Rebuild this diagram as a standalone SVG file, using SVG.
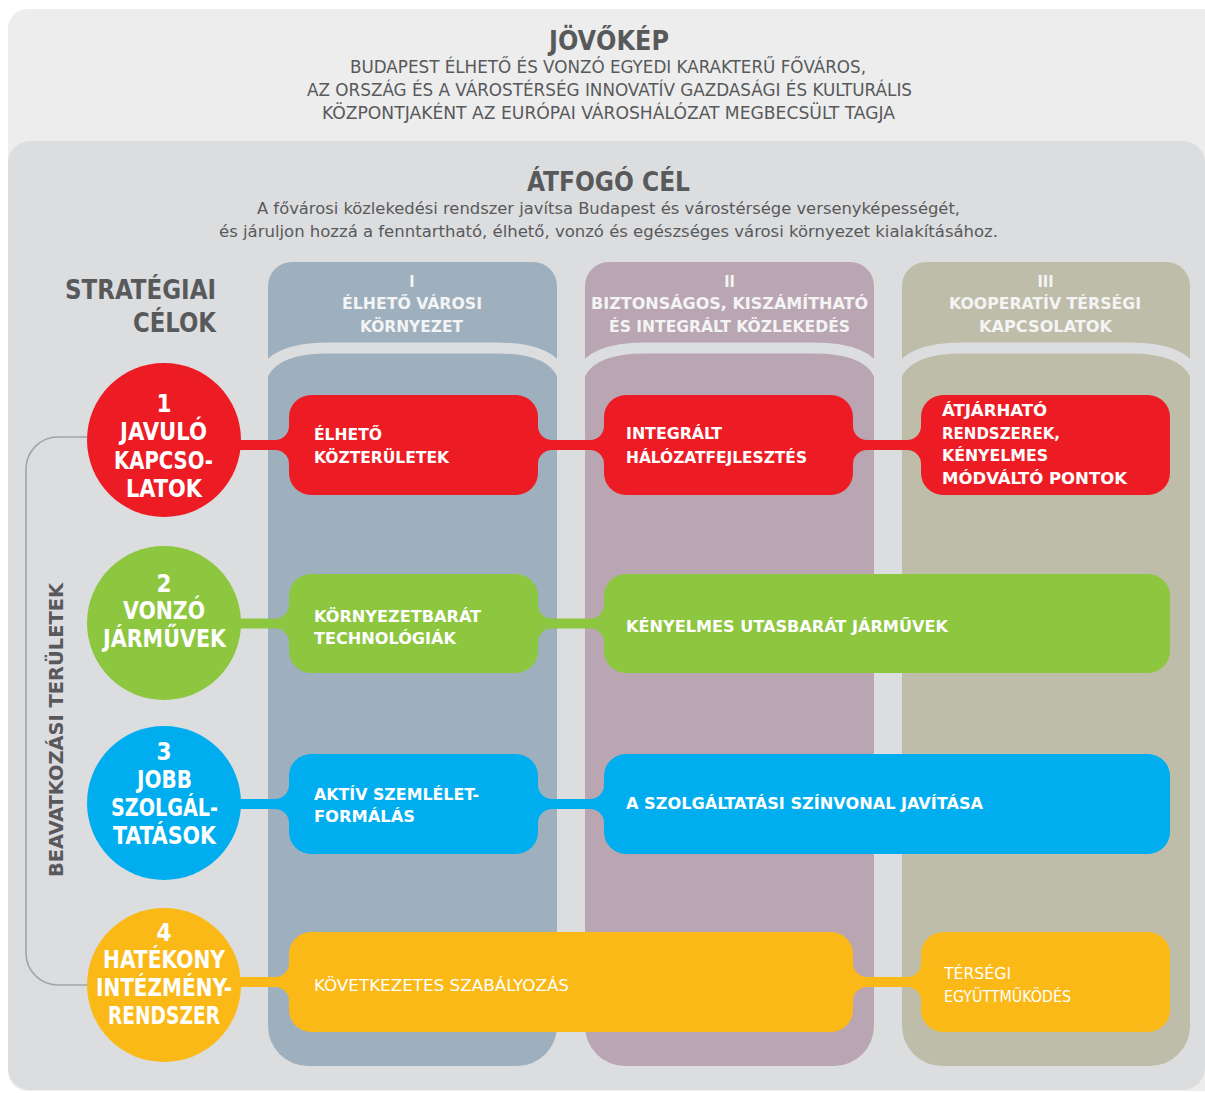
<svg xmlns="http://www.w3.org/2000/svg" xmlns:xlink="http://www.w3.org/1999/xlink" width="1205" height="1093" viewBox="0 0 1205 1093">
<style>
text{font-family:'Liberation Sans Narrow','DejaVu Sans Condensed','Liberation Sans',sans-serif}
.g{fill:#58595b}
.b{font-weight:bold}
.w{fill:#ffffff}
.hd{fill:#f4f4f4;font-weight:bold;font-size:16px;text-anchor:middle}
.bx{fill:#ffffff;font-weight:bold;font-size:16px}
.bxr{fill:#ffffff;font-size:16px}
.ci{fill:#ffffff;font-weight:bold;font-size:24px;text-anchor:middle}
.band{fill:none;stroke:#dcdddf;stroke-width:11}
.red{fill:#ed1c24}.grn{fill:#8dc63f}.blu{fill:#00aeef}.yel{fill:#fbb917}
</style>
<defs>
<g id="fL"><path d="M0,-19 L0,-5 L-14,-5 A14,14 0 0 0 0,-19 Z"/><path d="M0,19 L0,5 L-14,5 A14,14 0 0 1 0,19 Z"/></g>
<g id="fR"><path d="M0,-19 L0,-5 L14,-5 A14,14 0 0 1 0,-19 Z"/><path d="M0,19 L0,5 L14,5 A14,14 0 0 0 0,19 Z"/></g>
</defs>
<rect width="1205" height="1093" fill="#ffffff"/>
<g id="vision">
<rect x="8" y="9" width="1220" height="1082" rx="20" fill="#ededed"/>
<text class="g b" x="609" y="50" font-size="26" text-anchor="middle" textLength="120" lengthAdjust="spacingAndGlyphs">JÖVŐKÉP</text>
<text class="g" x="608" y="73" font-size="17" text-anchor="middle" textLength="516" lengthAdjust="spacingAndGlyphs">BUDAPEST ÉLHETŐ ÉS VONZÓ EGYEDI KARAKTERŰ FŐVÁROS,</text>
<text class="g" x="609.5" y="96" font-size="17" text-anchor="middle" textLength="605" lengthAdjust="spacingAndGlyphs">AZ ORSZÁG ÉS A VÁROSTÉRSÉG INNOVATÍV GAZDASÁGI ÉS KULTURÁLIS</text>
<text class="g" x="608.5" y="119" font-size="17" text-anchor="middle" textLength="573" lengthAdjust="spacingAndGlyphs">KÖZPONTJAKÉNT AZ EURÓPAI VÁROSHÁLÓZAT MEGBECSÜLT TAGJA</text>
</g>
<g id="goal">
<rect x="8" y="141" width="1197" height="949" rx="22" fill="#dcdddf"/>
<text class="g b" x="608.5" y="191" font-size="27" text-anchor="middle" textLength="163" lengthAdjust="spacingAndGlyphs">ÁTFOGÓ CÉL</text>
<text class="g" x="608.5" y="214" font-size="16" text-anchor="middle" textLength="703" lengthAdjust="spacingAndGlyphs">A fővárosi közlekedési rendszer javítsa Budapest és várostérsége versenyképességét,</text>
<text class="g" x="608.5" y="237" font-size="16" text-anchor="middle" textLength="779" lengthAdjust="spacingAndGlyphs">és járuljon hozzá a fenntartható, élhető, vonzó és egészséges városi környezet kialakításához.</text>
<text class="g b" x="216" y="299" font-size="27" text-anchor="end" textLength="151" lengthAdjust="spacingAndGlyphs">STRATÉGIAI</text>
<text class="g b" x="216" y="332" font-size="27" text-anchor="end" textLength="83" lengthAdjust="spacingAndGlyphs">CÉLOK</text>
</g>
<g id="col-1">
<path d="M268,286 A24,24 0 0 1 292,262 L533,262 A24,24 0 0 1 557,286 L557,1026 A40,40 0 0 1 517,1066 L308,1066 A40,40 0 0 1 268,1026 Z" fill="#9eafbd"/>
<path class="band" d="M263,374 C272,355 296,348 328,348 L497,348 C529,348 553,355 562,374"/>
<text class="hd" x="412" y="287">I</text>
<text class="hd" x="412" y="309" textLength="140" lengthAdjust="spacingAndGlyphs">ÉLHETŐ VÁROSI</text>
<text class="hd" x="411.5" y="332" textLength="103" lengthAdjust="spacingAndGlyphs">KÖRNYEZET</text>
</g>
<g id="col-2">
<path d="M585,286 A24,24 0 0 1 609,262 L850,262 A24,24 0 0 1 874,286 L874,1026 A40,40 0 0 1 834,1066 L625,1066 A40,40 0 0 1 585,1026 Z" fill="#b9a6b2"/>
<path class="band" d="M580,374 C589,355 613,348 645,348 L814,348 C846,348 870,355 879,374"/>
<text class="hd" x="729.5" y="287">II</text>
<text class="hd" x="729.5" y="309" textLength="277" lengthAdjust="spacingAndGlyphs">BIZTONSÁGOS, KISZÁMÍTHATÓ</text>
<text class="hd" x="729.5" y="332" textLength="241" lengthAdjust="spacingAndGlyphs">ÉS INTEGRÁLT KÖZLEKEDÉS</text>
</g>
<g id="col-3">
<path d="M902,286 A24,24 0 0 1 926,262 L1166,262 A24,24 0 0 1 1190,286 L1190,1026 A40,40 0 0 1 1150,1066 L942,1066 A40,40 0 0 1 902,1026 Z" fill="#bebda9"/>
<path class="band" d="M897,374 C906,355 930,348 962,348 L1130,348 C1162,348 1186,355 1195,374"/>
<text class="hd" x="1045.5" y="287">III</text>
<text class="hd" x="1045" y="309" textLength="192" lengthAdjust="spacingAndGlyphs">KOOPERATÍV TÉRSÉGI</text>
<text class="hd" x="1045.5" y="332" textLength="133" lengthAdjust="spacingAndGlyphs">KAPCSOLATOK</text>
</g>
<g id="connectors">
<path d="M88,437 L58,437 A32,32 0 0 0 26,469 L26,953 A32,32 0 0 0 58,985 L88,985" fill="none" stroke="#a3a4a6" stroke-width="1.6"/>
<rect class="red" x="164" y="440" width="950" height="10"/>
<use href="#fL" x="289" y="445" class="red"/>
<use href="#fR" x="538" y="445" class="red"/>
<use href="#fL" x="604" y="445" class="red"/>
<use href="#fR" x="853" y="445" class="red"/>
<use href="#fL" x="921" y="445" class="red"/>
<rect class="grn" x="164" y="618.5" width="550" height="10"/>
<use href="#fL" x="289" y="623.5" class="grn"/>
<use href="#fR" x="538" y="623.5" class="grn"/>
<use href="#fL" x="604" y="623.5" class="grn"/>
<rect class="blu" x="164" y="799" width="550" height="10"/>
<use href="#fL" x="289" y="804" class="blu"/>
<use href="#fR" x="538" y="804" class="blu"/>
<use href="#fL" x="604" y="804" class="blu"/>
<rect class="yel" x="164" y="977" width="850" height="10"/>
<use href="#fL" x="289" y="982" class="yel"/>
<use href="#fR" x="853" y="982" class="yel"/>
<use href="#fL" x="921" y="982" class="yel"/>
</g>
<text class="g b" transform="translate(63,730) rotate(-90)" x="0" y="0" font-size="20" text-anchor="middle" textLength="294" lengthAdjust="spacingAndGlyphs">BEAVATKOZÁSI TERÜLETEK</text>
<g id="goal-1">
<circle class="red" cx="164" cy="440" r="77"/>
<text class="ci" x="164" y="412">1</text>
<text class="ci" x="163.5" y="440" textLength="87" lengthAdjust="spacingAndGlyphs">JAVULÓ</text>
<text class="ci" x="163.5" y="469" textLength="99" lengthAdjust="spacingAndGlyphs">KAPCSO-</text>
<text class="ci" x="164" y="497" textLength="76" lengthAdjust="spacingAndGlyphs">LATOK</text>
</g>
<g id="goal-2">
<circle class="grn" cx="164" cy="623" r="77"/>
<text class="ci" x="164" y="592">2</text>
<text class="ci" x="164" y="619" textLength="82" lengthAdjust="spacingAndGlyphs">VONZÓ</text>
<text class="ci" x="164.5" y="647" textLength="123" lengthAdjust="spacingAndGlyphs">JÁRMŰVEK</text>
</g>
<g id="goal-3">
<circle class="blu" cx="164" cy="803" r="77"/>
<text class="ci" x="164" y="760">3</text>
<text class="ci" x="164.5" y="788" textLength="55" lengthAdjust="spacingAndGlyphs">JOBB</text>
<text class="ci" x="164.5" y="816" textLength="107" lengthAdjust="spacingAndGlyphs">SZOLGÁL-</text>
<text class="ci" x="164.5" y="844" textLength="103" lengthAdjust="spacingAndGlyphs">TATÁSOK</text>
</g>
<g id="goal-4">
<circle class="yel" cx="164" cy="985" r="77"/>
<text class="ci" x="164" y="941">4</text>
<text class="ci" x="164" y="968" textLength="122" lengthAdjust="spacingAndGlyphs">HATÉKONY</text>
<text class="ci" x="164" y="996" textLength="136" lengthAdjust="spacingAndGlyphs">INTÉZMÉNY-</text>
<text class="ci" x="164" y="1024" textLength="112" lengthAdjust="spacingAndGlyphs">RENDSZER</text>
</g>
<g id="box-1a">
<rect class="red" x="289" y="395" width="249" height="100" rx="22"/>
<text class="bx" x="314" y="440" textLength="68" lengthAdjust="spacingAndGlyphs">ÉLHETŐ</text>
<text class="bx" x="314" y="463" textLength="135" lengthAdjust="spacingAndGlyphs">KÖZTERÜLETEK</text>
</g>
<g id="box-1b">
<rect class="red" x="604" y="395" width="249" height="100" rx="22"/>
<text class="bx" x="626" y="439" textLength="96" lengthAdjust="spacingAndGlyphs">INTEGRÁLT</text>
<text class="bx" x="626" y="463" textLength="181" lengthAdjust="spacingAndGlyphs">HÁLÓZATFEJLESZTÉS</text>
</g>
<g id="box-1c">
<rect class="red" x="921" y="395" width="249" height="100" rx="22"/>
<text class="bx" x="942" y="416" textLength="105" lengthAdjust="spacingAndGlyphs">ÁTJÁRHATÓ</text>
<text class="bx" x="942" y="439" textLength="118" lengthAdjust="spacingAndGlyphs">RENDSZEREK,</text>
<text class="bx" x="942" y="461" textLength="106" lengthAdjust="spacingAndGlyphs">KÉNYELMES</text>
<text class="bx" x="942" y="484" textLength="185" lengthAdjust="spacingAndGlyphs">MÓDVÁLTÓ PONTOK</text>
</g>
<g id="box-2a">
<rect class="grn" x="289" y="574" width="249" height="99" rx="22"/>
<text class="bx" x="314" y="622" textLength="167" lengthAdjust="spacingAndGlyphs">KÖRNYEZETBARÁT</text>
<text class="bx" x="314" y="644" textLength="142" lengthAdjust="spacingAndGlyphs">TECHNOLÓGIÁK</text>
</g>
<g id="box-2b">
<rect class="grn" x="604" y="574" width="566" height="99" rx="22"/>
<text class="bx" x="626" y="632" textLength="322" lengthAdjust="spacingAndGlyphs">KÉNYELMES UTASBARÁT JÁRMŰVEK</text>
</g>
<g id="box-3a">
<rect class="blu" x="289" y="754" width="249" height="100" rx="22"/>
<text class="bx" x="314" y="800" textLength="165" lengthAdjust="spacingAndGlyphs">AKTÍV SZEMLÉLET-</text>
<text class="bx" x="314" y="822" textLength="101" lengthAdjust="spacingAndGlyphs">FORMÁLÁS</text>
</g>
<g id="box-3b">
<rect class="blu" x="604" y="754" width="566" height="100" rx="22"/>
<text class="bx" x="626" y="809" textLength="357" lengthAdjust="spacingAndGlyphs">A SZOLGÁLTATÁSI SZÍNVONAL JAVÍTÁSA</text>
</g>
<g id="box-4a">
<rect class="yel" x="289" y="932" width="564" height="100" rx="22"/>
<text class="bxr" x="314" y="991" textLength="255" lengthAdjust="spacingAndGlyphs">KÖVETKEZETES SZABÁLYOZÁS</text>
</g>
<g id="box-4b">
<rect class="yel" x="921" y="932" width="249" height="100" rx="22"/>
<text class="bxr" x="944" y="979" textLength="67" lengthAdjust="spacingAndGlyphs">TÉRSÉGI</text>
<text class="bxr" x="944" y="1002" textLength="127" lengthAdjust="spacingAndGlyphs">EGYÜTTMŰKÖDÉS</text>
</g>
</svg>
